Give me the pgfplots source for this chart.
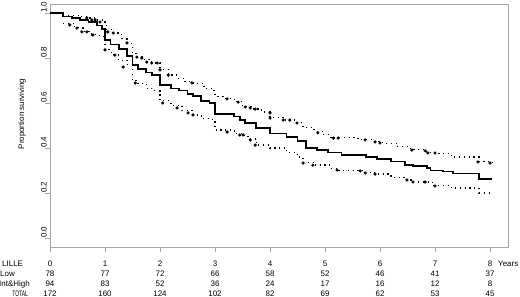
\documentclass[border=0pt]{standalone}
\usepackage{fontspec}
\setmainfont{Liberation Sans}
\usepackage{graphicx}
\usepackage{pgfplots}
\pgfplotsset{compat=1.18}
\newcommand{\sm}{\fontsize{8}{9.6}\selectfont}
\begin{document}
\begin{tikzpicture}
\path[use as bounding box] (0,0) rectangle (520bp,297bp);
\begin{axis}[
  at={(50bp,50bp)}, anchor=south west,
  scale only axis, width=458bp, height=243bp,
  xmin=0, xmax=8.327, ymin=-0.04, ymax=1.04,
  axis line style={draw=black!35, line width=0.9bp},
  xtick={0,1,2,3,4,5,6,7,8},
  ytick={0,0.2,0.4,0.6,0.8,1},
  yticklabels={0.0,0.2,0.4,0.6,0.8,1.0},
  tick align=outside, major tick length=5bp,
  tick style={black!35, line width=0.9bp},
  xtick pos=bottom, ytick pos=left,
  /pgf/number format/assume math mode=true,
  ticklabel style={font=\sm},
  xticklabel style={anchor=base, yshift=-14bp, inner sep=0pt},
  yticklabel style={xshift=2bp, rotate=90, anchor=south west, inner sep=0pt},
  clip=false,
]
% Kaplan-Meier estimate
\addplot[const plot, black, line width=1.7bp] coordinates {
(0,1.0) (0.24,0.985) (0.4,0.978) (0.55,0.97) (0.7,0.96) (0.85,0.945) (0.95,0.93)
(1.0,0.88) (1.1,0.86) (1.25,0.84) (1.4,0.81) (1.5,0.77) (1.6,0.75) (1.75,0.735)
(1.85,0.725) (2.0,0.68) (2.2,0.665) (2.35,0.655) (2.5,0.64) (2.6,0.63) (2.75,0.61)
(2.9,0.60) (3.0,0.55) (3.35,0.54) (3.45,0.525) (3.55,0.51) (3.75,0.49) (4.0,0.465)
(4.3,0.45) (4.5,0.43) (4.65,0.40) (4.85,0.39) (5.05,0.38) (5.3,0.37) (5.75,0.36)
(5.95,0.35) (6.2,0.34) (6.45,0.325) (6.6,0.32) (6.85,0.31) (6.92,0.30) (7.15,0.295)
(7.33,0.287) (7.8,0.262) (8.04,0.262)};
% upper CI
\addplot[const plot, black, line width=1.2bp, dash pattern=on 1.2bp off 3.6bp] coordinates {
(0.24,0.99) (0.55,0.985) (0.7,0.978) (0.85,0.969) (0.95,0.96) (1.02,0.925) (1.15,0.911)
(1.3,0.885) (1.4,0.865) (1.5,0.82) (1.58,0.804) (1.7,0.795) (1.8,0.782) (1.9,0.778)
(2.0,0.75) (2.15,0.724) (2.3,0.71) (2.45,0.695) (2.6,0.688) (2.8,0.665) (2.95,0.655)
(3.0,0.63) (3.15,0.62) (3.35,0.606) (3.5,0.585) (3.7,0.573) (3.85,0.56) (4.0,0.535)
(4.25,0.524) (4.45,0.512) (4.6,0.49) (4.8,0.475) (4.95,0.46) (5.1,0.445) (5.6,0.436)
(5.85,0.428) (6.05,0.42) (6.3,0.405) (6.55,0.392) (6.85,0.38) (7.0,0.375) (7.3,0.36)
(7.8,0.34) (8.04,0.335)};
% lower CI
\addplot[const plot, black, line width=1.2bp, dash pattern=on 1.2bp off 3.6bp] coordinates {
(0.24,0.955) (0.45,0.935) (0.6,0.918) (0.75,0.905) (0.9,0.895) (1.0,0.836) (1.12,0.815)
(1.25,0.79) (1.4,0.77) (1.5,0.70) (1.6,0.685) (1.75,0.665) (1.85,0.655) (2.0,0.61)
(2.2,0.59) (2.4,0.565) (2.6,0.547) (2.75,0.53) (2.95,0.516) (3.0,0.48) (3.35,0.465)
(3.5,0.455) (3.6,0.44) (3.75,0.413) (4.0,0.40) (4.3,0.38) (4.5,0.36) (4.6,0.336)
(4.8,0.324) (5.1,0.31) (5.25,0.30) (5.7,0.29) (5.9,0.284) (6.2,0.27) (6.45,0.258)
(6.6,0.249) (6.95,0.232) (7.3,0.222) (7.8,0.2) (8.04,0.196)};
% censoring marks on CI
\addplot[only marks, mark=*, mark size=1.4bp, black] coordinates {
(0.67,0.978) (0.76,0.969) (0.82,0.969) (0.91,0.96) (1.05,0.916) (1.15,0.911) (1.4,0.867)
(1.58,0.804) (1.67,0.8) (1.76,0.782) (1.85,0.778) (1.95,0.778) (2.0,0.747) (2.15,0.724)
(2.58,0.689) (3.22,0.618) (3.42,0.604) (3.55,0.582) (3.64,0.578) (3.73,0.573)
(4.0,0.556) (4.0,0.533) (4.24,0.524) (4.36,0.524) (4.49,0.511) (4.87,0.467) (5.15,0.444)
(5.24,0.444) (5.73,0.436) (5.91,0.427) (6.0,0.422) (6.58,0.391) (6.82,0.387) (6.87,0.378)
(7.0,0.378) (7.78,0.338) (8.0,0.333)
(0.36,0.947) (0.49,0.933) (0.58,0.916) (0.67,0.916) (0.78,0.902) (1.0,0.836) (1.18,0.813)
(1.33,0.76) (1.55,0.689) (2.05,0.6) (2.31,0.578) (2.51,0.556) (2.6,0.547) (3.22,0.471)
(3.45,0.458) (3.51,0.458) (3.64,0.436) (3.73,0.413) (4.6,0.333) (4.78,0.324) (5.22,0.302)
(5.64,0.298) (5.73,0.289) (5.91,0.284) (6.49,0.258) (6.6,0.249) (6.82,0.249) (7.0,0.231)};
% y label
\node[rotate=90, font=\sm] at (axis description cs:-0.0611,0.547) {Proportion surviving};
% number at risk table
\node[font=\sm, anchor=base west, inner sep=0pt] at (axis cs:-0.873,-0.04) [yshift=-19bp] {LILLE};
\node[font=\sm, anchor=base west, inner sep=0pt] at (axis cs:-0.909,-0.04) [yshift=-29bp] {Low};
\node[font=\sm, anchor=base west, inner sep=0pt] at (axis cs:-0.927,-0.04) [yshift=-39bp] {Int\&High};
\node[font=\sm, anchor=base east, inner sep=0pt] at (axis cs:-0.4,-0.04) [yshift=-49bp] {\scalebox{0.62}[1]{TOTAL}};
\node[font=\sm, anchor=base west, inner sep=0pt] at (axis cs:8.145,-0.04) [yshift=-19bp] {Years};
\node[font=\sm, anchor=base, inner sep=0pt] at (axis cs:0,-0.04) [yshift=-29bp] {78};
\node[font=\sm, anchor=base, inner sep=0pt] at (axis cs:1,-0.04) [yshift=-29bp] {77};
\node[font=\sm, anchor=base, inner sep=0pt] at (axis cs:2,-0.04) [yshift=-29bp] {72};
\node[font=\sm, anchor=base, inner sep=0pt] at (axis cs:3,-0.04) [yshift=-29bp] {66};
\node[font=\sm, anchor=base, inner sep=0pt] at (axis cs:4,-0.04) [yshift=-29bp] {58};
\node[font=\sm, anchor=base, inner sep=0pt] at (axis cs:5,-0.04) [yshift=-29bp] {52};
\node[font=\sm, anchor=base, inner sep=0pt] at (axis cs:6,-0.04) [yshift=-29bp] {46};
\node[font=\sm, anchor=base, inner sep=0pt] at (axis cs:7,-0.04) [yshift=-29bp] {41};
\node[font=\sm, anchor=base, inner sep=0pt] at (axis cs:8,-0.04) [yshift=-29bp] {37};
\node[font=\sm, anchor=base, inner sep=0pt] at (axis cs:0,-0.04) [yshift=-39bp] {94};
\node[font=\sm, anchor=base, inner sep=0pt] at (axis cs:1,-0.04) [yshift=-39bp] {83};
\node[font=\sm, anchor=base, inner sep=0pt] at (axis cs:2,-0.04) [yshift=-39bp] {52};
\node[font=\sm, anchor=base, inner sep=0pt] at (axis cs:3,-0.04) [yshift=-39bp] {36};
\node[font=\sm, anchor=base, inner sep=0pt] at (axis cs:4,-0.04) [yshift=-39bp] {24};
\node[font=\sm, anchor=base, inner sep=0pt] at (axis cs:5,-0.04) [yshift=-39bp] {17};
\node[font=\sm, anchor=base, inner sep=0pt] at (axis cs:6,-0.04) [yshift=-39bp] {16};
\node[font=\sm, anchor=base, inner sep=0pt] at (axis cs:7,-0.04) [yshift=-39bp] {12};
\node[font=\sm, anchor=base, inner sep=0pt] at (axis cs:8,-0.04) [yshift=-39bp] {8};
\node[font=\sm, anchor=base, inner sep=0pt] at (axis cs:0,-0.04) [yshift=-49bp] {172};
\node[font=\sm, anchor=base, inner sep=0pt] at (axis cs:1,-0.04) [yshift=-49bp] {160};
\node[font=\sm, anchor=base, inner sep=0pt] at (axis cs:2,-0.04) [yshift=-49bp] {124};
\node[font=\sm, anchor=base, inner sep=0pt] at (axis cs:3,-0.04) [yshift=-49bp] {102};
\node[font=\sm, anchor=base, inner sep=0pt] at (axis cs:4,-0.04) [yshift=-49bp] {82};
\node[font=\sm, anchor=base, inner sep=0pt] at (axis cs:5,-0.04) [yshift=-49bp] {69};
\node[font=\sm, anchor=base, inner sep=0pt] at (axis cs:6,-0.04) [yshift=-49bp] {62};
\node[font=\sm, anchor=base, inner sep=0pt] at (axis cs:7,-0.04) [yshift=-49bp] {53};
\node[font=\sm, anchor=base, inner sep=0pt] at (axis cs:8,-0.04) [yshift=-49bp] {45};
\end{axis}
\end{tikzpicture}
\end{document}
